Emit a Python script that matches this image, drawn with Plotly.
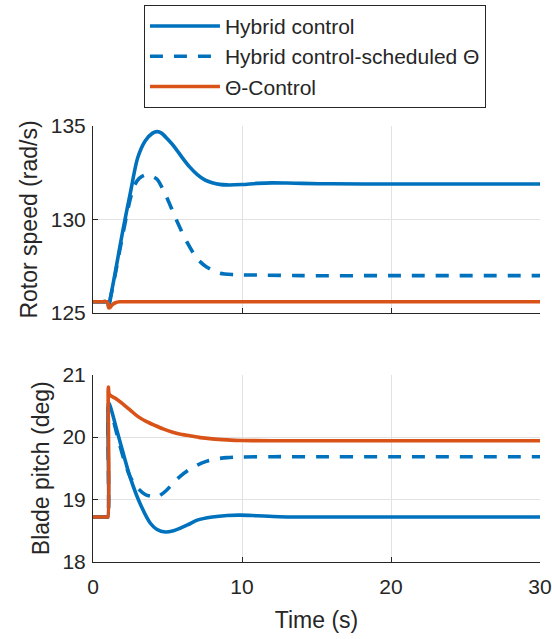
import plotly.graph_objects as go

# ---- Rotor speed (rad/s) ----
t_speed_hyb = [0, 0.5, 0.95, 1.0, 1.05, 1.2, 1.5, 2.0, 2.5, 3.0, 3.5, 4.0, 4.3, 4.6, 5.0,
               5.5, 6.0, 6.5, 7.0, 7.5, 8.0, 8.5, 9.0, 10.0, 11.0, 12.0, 13.0, 14.0,
               16.0, 20.0, 25.0, 30.0]
speed_hyb = [125.6, 125.6, 125.6, 125.55, 125.35, 125.95, 127.2, 129.4, 131.4, 133.3,
             134.2, 134.62, 134.7, 134.62, 134.3, 133.85, 133.3, 132.8, 132.4, 132.12,
             131.97, 131.88, 131.85, 131.87, 131.93, 131.96, 131.95, 131.93, 131.91,
             131.9, 131.9, 131.9]

t_speed_sched = [0, 0.5, 0.95, 1.0, 1.05, 1.2, 1.5, 2.0, 2.5, 2.8, 3.1, 3.5, 3.9, 4.3,
                 4.7, 5.0, 5.6, 6.3, 7.0, 7.6, 8.5, 9.5, 11.0, 14.0, 20.0, 30.0]
speed_sched = [125.6, 125.6, 125.6, 125.55, 125.35, 125.9, 127.1, 129.2, 131.1, 131.85,
               132.2, 132.38, 132.33, 132.15, 131.6, 131.1, 129.97, 128.8, 127.9, 127.48,
               127.13, 127.05, 127.03, 127.0, 127.0, 127.0]

t_speed_theta = [0, 0.5, 0.95, 1.0, 1.05, 1.15, 1.3, 1.5, 1.8, 2.5, 5.0, 10.0, 20.0, 30.0]
speed_theta = [125.6, 125.6, 125.6, 125.55, 125.28, 125.3, 125.45, 125.55, 125.6, 125.6,
               125.6, 125.6, 125.6, 125.6]

# ---- Blade pitch (deg) ----
t_pitch_hyb = [0, 0.5, 0.95, 1.0, 1.05, 1.2, 1.6, 2.05, 2.5, 3.15, 3.85, 4.3, 4.85, 5.4,
               5.85, 6.4, 7.0, 8.0, 9.0, 9.9, 11.0, 12.5, 15.0, 20.0, 30.0]
pitch_hyb = [18.72, 18.72, 18.72, 18.72, 20.55, 20.46, 20.11, 19.72, 19.35, 18.94, 18.62,
             18.52, 18.48, 18.5, 18.54, 18.6, 18.67, 18.72, 18.745, 18.75, 18.74, 18.725,
             18.72, 18.72, 18.72]

t_pitch_sched = [0, 0.5, 0.95, 1.0, 1.05, 1.2, 1.6, 2.05, 2.5, 3.0, 3.5, 3.9, 4.3, 4.9,
                 5.4, 5.85, 6.4, 7.0, 7.6, 8.3, 9.0, 10.0, 12.0, 15.0, 20.0, 30.0]
pitch_sched = [18.72, 18.72, 18.72, 18.72, 20.5, 20.42, 20.05, 19.66, 19.36, 19.18, 19.08,
               19.05, 19.04, 19.14, 19.27, 19.37, 19.47, 19.55, 19.61, 19.65, 19.67, 19.68,
               19.685, 19.685, 19.685, 19.685]

t_pitch_theta = [0, 0.5, 0.95, 1.0, 1.03, 1.1, 1.5, 2.0, 2.5, 3.0, 3.6, 4.2, 4.7, 5.3, 5.8,
                 6.5, 7.2, 8.0, 9.0, 10.0, 12.0, 15.0, 20.0, 30.0]
pitch_theta = [18.72, 18.72, 18.72, 18.72, 20.8, 20.68, 20.62, 20.53, 20.43, 20.33, 20.245,
               20.18, 20.13, 20.08, 20.05, 20.02, 19.99, 19.97, 19.955, 19.945, 19.94, 19.94,
               19.94, 19.94]

series_names = ["Hybrid control", "Hybrid control-scheduled Θ", "Θ-Control"]
BLUE = "#0072BD"
ORANGE = "#D95319"
TEXT = "#262626"
GRID = "#e2e2e2"
FONT = "Liberation Sans, Arial, Helvetica, sans-serif"

fig = go.Figure()

styles = [dict(color=BLUE, width=3.6),
          dict(color=BLUE, width=3.6, dash="13px,11px"),
          dict(color=ORANGE, width=3.6)]

speed_data = [(t_speed_hyb, speed_hyb), (t_speed_sched, speed_sched), (t_speed_theta, speed_theta)]
pitch_data = [(t_pitch_hyb, pitch_hyb), (t_pitch_sched, pitch_sched), (t_pitch_theta, pitch_theta)]

for name, (tx, ty), st in zip(series_names, speed_data, styles):
    fig.add_trace(go.Scatter(x=tx, y=ty, mode="lines", name=name,
                             line=dict(shape="spline", smoothing=0.8, **st),
                             xaxis="x", yaxis="y", showlegend=True))
for name, (tx, ty), st in zip(series_names, pitch_data, styles):
    fig.add_trace(go.Scatter(x=tx, y=ty, mode="lines", name=name,
                             line=dict(shape="spline", smoothing=0.8, **st),
                             xaxis="x2", yaxis="y2", showlegend=False))

axis_common = dict(
    showline=True, linecolor=TEXT, linewidth=1, mirror=False,
    ticks="inside", ticklen=5, tickcolor=TEXT, tickwidth=1,
    showgrid=True, gridcolor=GRID, gridwidth=1, zeroline=False,
    tickfont=dict(family=FONT, size=21, color=TEXT), automargin=False,
)

fig.update_layout(
    width=552, height=639,
    margin=dict(l=93, r=12, t=126, b=77, autoexpand=False),
    paper_bgcolor="white", plot_bgcolor="white",
    font=dict(family=FONT, color=TEXT),
    xaxis=dict(domain=[0, 1], anchor="y", range=[0, 30], tickvals=[0, 10, 20, 30],
               showticklabels=False, **axis_common),
    yaxis=dict(domain=[0.571, 1], anchor="x", range=[125, 135], tickvals=[125, 130, 135],
               title=dict(text="Rotor speed (rad/s)", font=dict(family=FONT, size=23, color=TEXT), standoff=6),
               ticklabelstandoff=2, **axis_common),
    xaxis2=dict(domain=[0, 1], anchor="y2", range=[0, 30], tickvals=[0, 10, 20, 30],
                title=dict(text="Time (s)", font=dict(family=FONT, size=23, color=TEXT), standoff=14),
                ticklabelstandoff=6, **axis_common),
    yaxis2=dict(domain=[0, 0.430], anchor="x2", range=[18, 21], tickvals=[18, 19, 20, 21],
                title=dict(text="Blade pitch (deg)", font=dict(family=FONT, size=23, color=TEXT), standoff=6),
                ticklabelstandoff=2, **axis_common),
    legend=dict(x=0.114, y=1.278, xanchor="left", yanchor="top",
                bgcolor="white", bordercolor=TEXT, borderwidth=1,
                font=dict(family=FONT, size=21, color=TEXT),
                itemwidth=70, tracegroupgap=0),
    showlegend=True,
)

fig.write_html("out.html")
